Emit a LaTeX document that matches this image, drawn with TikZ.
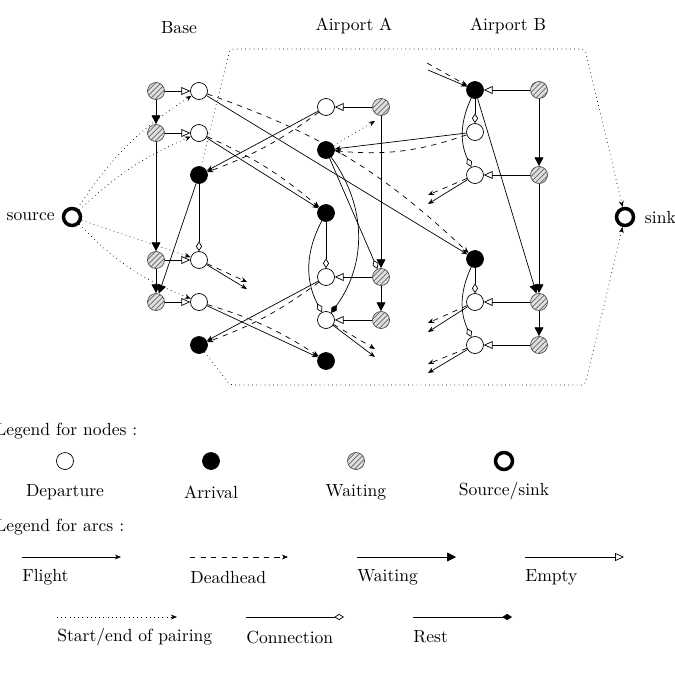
\documentclass[tikz,border=0pt]{standalone}
\usepackage{xcolor}
\usepackage{tikz}
\usetikzlibrary{shapes,arrows.meta,positioning,calc,patterns}

\begin{document}
\begin{tikzpicture}[x=0.02cm, y=0.02cm,
  dep/.style={circle, draw, fill=white, minimum size=0.34cm, inner sep=0pt},
  arr/.style={circle, draw, fill=black, minimum size=0.34cm, inner sep=0pt},
  wait/.style={circle, draw=black!70, minimum size=0.34cm, inner sep=0pt, preaction={fill=gray!25}, pattern=north east lines, pattern color=black!60},
  term/.style={circle, draw, line width=2pt, minimum size=0.34cm, inner sep=0pt},
  flightarc/.style={-{Stealth[length=3.5pt,width=2.8pt]}},
  deadarc/.style={dashed, -{Stealth[length=3.5pt,width=2.8pt]}},
  waitarc/.style={-{Triangle[length=5pt,width=5pt]}},
  emptyarc/.style={-{Triangle[open,length=5pt,width=4.5pt]}},
  pairarc/.style={dotted, -{Stealth[length=3.5pt,width=2.8pt]}},
  connarc/.style={-{Diamond[open,length=5.5pt,width=3.5pt]}},
  restarc/.style={-{Diamond[length=5.5pt,width=3.5pt]}},
]
\useasboundingbox (0,0) rectangle (675,-676);

% Column titles
\node (lblbase) at (179,-28) {Base};
\node (lbla) at (354,-26) {Airport A};
\node (lblb) at (508,-26) {Airport B};

% Source and sink
\node[term] (source) at (72,-217) {};
\node[left=0.5pt of source] (lblsource) {source};
\node[term] (sink) at (625,-217) {};
\node[right=2pt of sink] (lblsink) {sink};

% Base
\node[wait] (baseW1) at (156,-91) {};
\node[dep] (baseD1) at (199,-91) {};
\node[wait] (baseW2) at (156,-133) {};
\node[dep] (baseD2) at (199,-133) {};
\node[arr] (baseA1) at (199,-175) {};
\node[wait] (baseW3) at (156,-260) {};
\node[dep] (baseD3) at (199,-260) {};
\node[wait] (baseW4) at (156,-302) {};
\node[dep] (baseD4) at (199,-302) {};
\node[arr] (baseA2) at (199,-345) {};

% Airport A
\node[dep] (apaD1) at (326,-107) {};
\node[wait] (apaW1) at (381,-107) {};
\node[arr] (apaA1) at (326,-150) {};
\node[arr] (apaA2) at (326,-213) {};
\node[dep] (apaD2) at (326,-277) {};
\node[wait] (apaW2) at (381,-277) {};
\node[dep] (apaD3) at (326,-320) {};
\node[wait] (apaW3) at (381,-320) {};
\node[arr] (apaA3) at (326,-361) {};

% Airport B
\node[arr] (apbA1) at (475,-90) {};
\node[wait] (apbW1) at (539,-90) {};
\node[dep] (apbD1) at (475,-132) {};
\node[dep] (apbD2) at (475,-175) {};
\node[wait] (apbW2) at (539,-175) {};
\node[arr] (apbA2) at (475,-259) {};
\node[dep] (apbD3) at (475,-302) {};
\node[wait] (apbW3) at (539,-302) {};
\node[dep] (apbD4) at (475,-345) {};
\node[wait] (apbW4) at (539,-345) {};

% Loose ends of arcs
\coordinate (baseF3) at (247,-289);
\coordinate (baseH3) at (247,-282);
\coordinate (apaF3) at (375,-357);
\coordinate (apaH3) at (375,-349);
\coordinate (apaP1) at (375,-121);
\coordinate (apbFin) at (428,-70);
\coordinate (apbHin) at (427,-63);
\coordinate (apbF2) at (428,-204);
\coordinate (apbH2) at (428,-195);
\coordinate (apbF3) at (428,-332);
\coordinate (apbH3) at (428,-323);
\coordinate (apbF4) at (428,-373);
\coordinate (apbH4) at (428,-364);

% Start/end of pairing
\draw[pairarc] (source) to[bend left=12] (baseD1);
\draw[pairarc] (source) to[bend left=10] (baseD2);
\draw[pairarc] (source) -- (baseD3);
\draw[pairarc] (source) to[bend right=12] (baseD4);
\draw[pairarc, rounded corners=2pt] (baseA1) -- (230,-49) -- (585,-49) -- (sink);
\draw[pairarc, rounded corners=2pt] (baseA2) -- (230,-385) -- (585,-385) -- (sink);
\draw[pairarc] (apaA1) -- (apaP1);

% Waiting and empty arcs
\draw[waitarc] (baseW1) -- (baseW2);
\draw[waitarc] (baseW2) -- (baseW3);
\draw[waitarc] (baseW3) -- (baseW4);
\draw[waitarc] (baseA1) -- (baseW4);
\draw[emptyarc] (baseW1) -- (baseD1);
\draw[emptyarc] (baseW2) -- (baseD2);
\draw[emptyarc] (baseW3) -- (baseD3);
\draw[emptyarc] (baseW4) -- (baseD4);
\draw[waitarc] (apaW1) -- (apaW2);
\draw[waitarc] (apaW2) -- (apaW3);
\draw[emptyarc] (apaW1) -- (apaD1);
\draw[emptyarc] (apaW2) -- (apaD2);
\draw[emptyarc] (apaW3) -- (apaD3);
\draw[waitarc] (apbW1) -- (apbW2);
\draw[waitarc] (apbW2) -- (apbW3);
\draw[waitarc] (apbW3) -- (apbW4);
\draw[waitarc] (apbA1) -- (apbW3);
\draw[emptyarc] (apbW1) -- (apbA1);
\draw[emptyarc] (apbW2) -- (apbD2);
\draw[emptyarc] (apbW3) -- (apbD3);
\draw[emptyarc] (apbW4) -- (apbD4);

% Connections and rest
\draw[connarc] (baseA1) -- (baseD3);
\draw[connarc] (apaA1) -- (apaW2);
\draw[restarc] (apaA1) to[bend left=36] (apaD3);
\draw[connarc] (apaA2) -- (apaD2);
\draw[connarc] (apaA2) to[bend right=28] (apaD3);
\draw[connarc] (apbA1) -- (apbD1);
\draw[connarc] (apbA1) to[bend right=25] (apbD2);
\draw[connarc] (apbA2) -- (apbD3);
\draw[connarc] (apbA2) to[bend right=25] (apbD4);

% Flights and deadheads
\draw[flightarc] (baseD1) -- (apbA2);
\draw[deadarc] (baseD1) to[bend left=12] (apbA2);
\draw[flightarc] (baseD2) -- (apaA2);
\draw[deadarc] (baseD2) to[bend left=8] (apaA2);
\draw[flightarc] (apaD1) -- (baseA1);
\draw[deadarc] (apaD1) to[bend left=8] (baseA1);
\draw[flightarc] (baseD4) -- (apaA3);
\draw[deadarc] (baseD4) to[bend left=8] (apaA3);
\draw[flightarc] (apaD2) -- (baseA2);
\draw[deadarc] (apaD2) to[bend left=8] (baseA2);
\draw[flightarc] (apbD1) -- (apaA1);
\draw[deadarc] (apbD1) to[bend left=12] (apaA1);
\draw[flightarc] (baseD3) -- (baseF3);
\draw[deadarc] (baseD3) -- (baseH3);
\draw[flightarc] (apaD3) -- (apaF3);
\draw[deadarc] (apaD3) -- (apaH3);
\draw[flightarc] (apbFin) -- (apbA1);
\draw[deadarc] (apbHin) -- (apbA1);
\draw[flightarc] (apbD2) -- (apbF2);
\draw[deadarc] (apbD2) -- (apbH2);
\draw[flightarc] (apbD3) -- (apbF3);
\draw[deadarc] (apbD3) -- (apbH3);
\draw[flightarc] (apbD4) -- (apbF4);
\draw[deadarc] (apbD4) -- (apbH4);

% Legend for nodes
\node[anchor=west, inner sep=0pt] (legnodes) at (-5,-431) {Legend for nodes :};
\node[dep] (legdep) at (65,-461) {};
\node (legdeptxt) at (65,-492) {Departure};
\node[arr] (legarr) at (211,-461) {};
\node (legarrtxt) at (211,-492) {Arrival};
\node[wait] (legwait) at (356,-461) {};
\node (legwaittxt) at (356,-492) {Waiting};
\node[term] (legterm) at (504,-461) {};
\node (legtermtxt) at (504,-491) {Source/sink};

% Legend for arcs
\node[anchor=west, inner sep=0pt] (legarcs) at (-5,-527) {Legend for arcs :};
\coordinate (legfl1) at (22,-557);
\coordinate (legfl2) at (121,-557);
\draw[flightarc] (legfl1) -- (legfl2);
\node[anchor=west, inner sep=0pt] (legfltxt) at (22,-577) {Flight};
\coordinate (legdh1) at (190,-557);
\coordinate (legdh2) at (288,-557);
\draw[deadarc] (legdh1) -- (legdh2);
\node[anchor=west, inner sep=0pt] (legdhtxt) at (190,-577) {Deadhead};
\coordinate (legwt1) at (357,-557);
\coordinate (legwt2) at (456,-557);
\draw[waitarc] (legwt1) -- (legwt2);
\node[anchor=west, inner sep=0pt] (legwttxt) at (357,-577) {Waiting};
\coordinate (legem1) at (525,-557);
\coordinate (legem2) at (624,-557);
\draw[emptyarc] (legem1) -- (legem2);
\node[anchor=west, inner sep=0pt] (legemtxt) at (525,-577) {Empty};
\coordinate (legpr1) at (57,-617);
\coordinate (legpr2) at (177,-617);
\draw[pairarc] (legpr1) -- (legpr2);
\node[anchor=west, inner sep=0pt] (legprtxt) at (57,-637) {Start/end of pairing};
\coordinate (legcn1) at (246,-617);
\coordinate (legcn2) at (344,-617);
\draw[connarc] (legcn1) -- (legcn2);
\node[anchor=west, inner sep=0pt] (legcntxt) at (246,-637) {Connection};
\coordinate (legrs1) at (413,-617);
\coordinate (legrs2) at (512,-617);
\draw[restarc] (legrs1) -- (legrs2);
\node[anchor=west, inner sep=0pt] (legrstxt) at (413,-637) {Rest};
\end{tikzpicture}
\end{document}
